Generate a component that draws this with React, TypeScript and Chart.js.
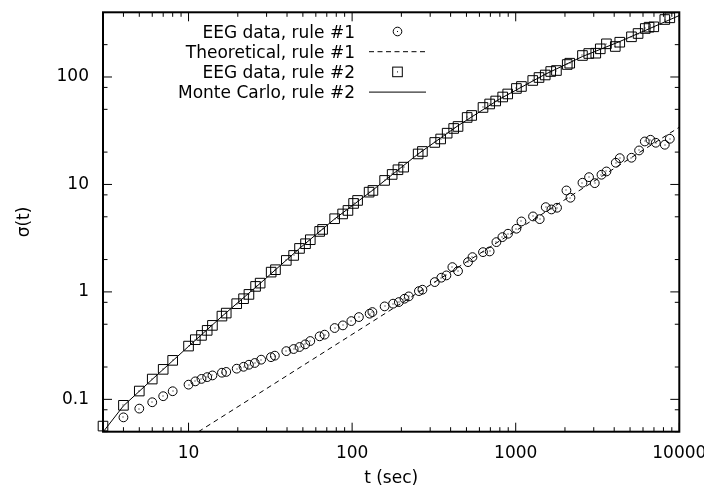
import { useEffect, useRef } from "react";
import { Chart, registerables } from "chart.js";
Chart.register(...registerables);

// EEG data, rule #1 (circles)
const T_EEG1 = [4,5,6,7,8,10,11,12,13,14,16,17,19.7,21.7,23.4,25.4,27.8,31.9,33.7,39.6,43.9,47.7,51.7,55.5,63.3,67.9,78.2,87.8,98.9,110,128,133,158,178,193,209,222,256,269,320,351,377,410,444,511,544,631,693,762,829,897,1010,1084,1276,1402,1526,1653,1789,2042,2161,2559,2807,3042,3344,3586,4089,4326,5101,5678,6152,6665,7183,8154,8749];
const S_EEG1 = [0.068,0.082,0.094,0.107,0.119,0.137,0.147,0.155,0.161,0.167,0.177,0.180,0.193,0.201,0.210,0.218,0.234,0.247,0.255,0.281,0.294,0.307,0.325,0.349,0.386,0.400,0.461,0.488,0.535,0.583,0.627,0.649,0.733,0.777,0.804,0.864,0.908,1.017,1.048,1.234,1.356,1.424,1.701,1.561,1.893,2.107,2.345,2.38,2.906,3.234,3.478,3.872,4.526,5.039,4.756,6.149,5.853,6.07,8.794,7.52,10.37,11.69,10.28,12.31,13.21,15.92,17.57,17.72,20.72,25.12,26.05,24.43,23.41,26.61];

// Theoretical, rule #1 (dashed)
const T_THEORY = [11.5, 10000];
const S_THEORY = [0.05, 34.1];

// EEG data, rule #2 (squares)
const T_EEG2 = [3,4,5,6,7,8,10,11,12,13,14,16,17,19.7,21.7,23.4,25.7,27.4,32.0,34.0,39.6,43.9,47.7,51.9,55.5,63.3,66.0,78.2,87.5,94.3,102.1,108,127,134,158,175.7,190.6,206.5,253.3,269,320,347.7,381,417.7,444,505,538,631,693,754.6,832.6,893.5,1010,1084,1271,1388,1515,1637,1774,2065,2139,2559,2796,3086,3288,3586,4061,4326,5101,5598,6194,6535,6982,8154,8749];
const S_EEG2 = [0.0564,0.088,0.1195,0.1545,0.1902,0.2306,0.3132,0.3592,0.3938,0.4385,0.488,0.5955,0.635,0.7767,0.8644,0.9478,1.125,1.207,1.528,1.609,1.963,2.185,2.539,2.808,3.06,3.654,3.815,4.797,5.316,5.729,6.658,7.1,8.479,8.794,10.9,12.39,13.7,14.49,19.22,20.28,24.59,26.5,30.0,33.19,34.64,42.02,43.86,52.04,56.09,59.8,65.16,69.5,78.2,81.6,92.8,98.9,104.4,112.5,114.9,130.7,134.4,158.5,165.4,166.5,182.9,203.6,192.2,210.7,236.6,253.9,282.7,290.7,293.1,342.7,355.4];

// Monte Carlo, rule #2 (solid)
const T_MC = [3,4,6,10,16,27.4,47.7,78.2,133,253,441,798,1505,2559,4326,6600,10000];
const S_MC = [0.0496,0.087,0.1535,0.311,0.592,1.2,2.54,4.777,8.79,19.2,35.0,62.4,105.5,155.1,213.9,282.7,373.4];

const LABELS = ["EEG data, rule #1", "Theoretical, rule #1", "EEG data, rule #2", "Monte Carlo, rule #2"];
const X_TITLE = "t (sec)";
const Y_TITLE = "σ(t)";

const X_MIN = 3, X_MAX = 10000, Y_MIN = 0.05, Y_MAX = 400;
const X_MAJOR = [10, 100, 1000, 10000];
const X_MINOR = [3,4,5,6,7,8,9,20,30,40,50,60,70,80,90,200,300,400,500,600,700,800,900,2000,3000,4000,5000,6000,7000,8000,9000];
const Y_MAJOR = [0.1, 1, 10, 100];
const Y_MINOR = [0.05, 0.08, 0.2, 0.5, 0.8, 2, 5, 8, 20, 50, 80, 200];

const FONT = '"DejaVu Sans", sans-serif';
const FS = 17;

const pts = (xs: number[], ys: number[]) => xs.map((x, i) => ({ x, y: ys[i] }));

const framePlugin = {
  id: "gnuplotFrame",
  afterDatasetsDraw(chart: any) {
    const { ctx, chartArea: a, scales } = chart;
    const xs = scales.x, ys = scales.y;
    ctx.save();
    // center dots on markers
    ctx.fillStyle = "#000";
    [0, 2].forEach((di) => {
      chart.getDatasetMeta(di).data.forEach((el: any) => {
        ctx.fillRect(Math.round(el.x) - 0.5, Math.round(el.y) - 0.5, 1, 1);
      });
    });
    // ticks
    ctx.strokeStyle = "#000";
    ctx.lineWidth = 1;
    ctx.beginPath();
    const xt = (vals: number[], len: number) => vals.forEach((v) => {
      const p = xs.getPixelForValue(v);
      ctx.moveTo(p, a.bottom); ctx.lineTo(p, a.bottom - len);
      ctx.moveTo(p, a.top); ctx.lineTo(p, a.top + len);
    });
    const yt = (vals: number[], len: number) => vals.forEach((v) => {
      const p = ys.getPixelForValue(v);
      ctx.moveTo(a.left, p); ctx.lineTo(a.left + len, p);
      ctx.moveTo(a.right, p); ctx.lineTo(a.right - len, p);
    });
    xt(X_MAJOR, 9); xt(X_MINOR, 4.5);
    yt(Y_MAJOR, 9); yt(Y_MINOR, 4.5);
    ctx.stroke();
    // border
    ctx.lineWidth = 2;
    ctx.strokeRect(a.left, a.top, a.right - a.left, a.bottom - a.top);
    // legend
    ctx.font = `${FS}px ${FONT}`;
    ctx.textAlign = "right";
    ctx.textBaseline = "alphabetic";
    ctx.fillStyle = "#000";
    const sx = 397.5, x0 = 369, x1 = 426;
    LABELS.forEach((lab, i) => {
      const y = 31.5 + 20.2 * i;
      ctx.fillText(lab, 355, y + 6.2);
      ctx.lineWidth = 1;
      ctx.setLineDash([]);
      if (i === 0) {
        ctx.beginPath(); ctx.arc(sx, y, 4.3, 0, Math.PI * 2); ctx.stroke();
        ctx.fillRect(sx - 0.5, y - 0.5, 1, 1);
      } else if (i === 2) {
        ctx.strokeRect(sx - 4.8, y - 4.8, 9.6, 9.6);
        ctx.fillRect(sx - 0.5, y - 0.5, 1, 1);
      } else {
        if (i === 1) ctx.setLineDash([5, 3.5]);
        ctx.beginPath(); ctx.moveTo(x0, y); ctx.lineTo(x1, y); ctx.stroke();
        ctx.setLineDash([]);
      }
    });
    ctx.restore();
  },
};

export default function App() {
  const ref = useRef<HTMLCanvasElement>(null);
  useEffect(() => {
    const canvas = ref.current!;
    const tickFont = { family: FONT, size: FS };
    const chart = new Chart(canvas, {
      type: "scatter",
      data: {
        datasets: [
          {
            label: LABELS[0], data: pts(T_EEG1, S_EEG1), showLine: false,
            pointStyle: "circle", pointRadius: 4.4, pointBorderWidth: 1,
            pointBorderColor: "#000", pointBackgroundColor: "rgba(0,0,0,0)", clip: false,
          },
          {
            label: LABELS[1], data: pts(T_THEORY, S_THEORY), showLine: true,
            borderColor: "#000", borderWidth: 1, borderDash: [5, 4], pointRadius: 0,
          },
          {
            label: LABELS[2], data: pts(T_EEG2, S_EEG2), showLine: false,
            pointStyle: "rect", pointRadius: 6.8, pointBorderWidth: 1,
            pointBorderColor: "#000", pointBackgroundColor: "rgba(0,0,0,0)", clip: false,
          },
          {
            label: LABELS[3], data: pts(T_MC, S_MC), showLine: true,
            borderColor: "#000", borderWidth: 1, pointRadius: 0,
          },
        ] as any,
      },
      options: {
        responsive: false,
        animation: false,
        devicePixelRatio: 1,
        events: [],
        layout: { padding: { left: 0, top: 12.3, right: 24.7, bottom: 0 } },
        plugins: { legend: { display: false }, tooltip: { enabled: false } },
        scales: {
          x: {
            type: "logarithmic", position: "bottom", min: X_MIN, max: X_MAX,
            grid: { display: false, drawTicks: false }, border: { display: false },
            ticks: {
              autoSkip: false, maxRotation: 0, padding: 11.5, color: "#000", font: tickFont,
              callback: (v: any) => (X_MAJOR.includes(Number(v)) ? String(v) : ""),
            },
            title: { display: true, text: X_TITLE, color: "#000", font: tickFont, padding: { top: 0, bottom: 4.5 } },
            afterBuildTicks: (s: any) => { s.ticks = X_MAJOR.map((v) => ({ value: v })); },
            afterFit: (s: any) => { s.height = 61.3; s.paddingLeft = 0; s.paddingRight = 0; },
          },
          y: {
            type: "logarithmic", position: "left", min: Y_MIN, max: Y_MAX,
            grid: { display: false, drawTicks: false }, border: { display: false },
            ticks: {
              autoSkip: false, padding: 14, color: "#000", font: tickFont,
              callback: (v: any) => (Y_MAJOR.includes(Number(v)) ? String(v) : ""),
            },
            title: { display: true, text: Y_TITLE, color: "#000", font: tickFont, padding: { top: 14, bottom: 0 } },
            afterBuildTicks: (s: any) => { s.ticks = Y_MAJOR.map((v) => ({ value: v })); },
            afterFit: (s: any) => { s.width = 103; s.paddingTop = 0; s.paddingBottom = 0; },
          },
        },
      } as any,
      plugins: [framePlugin],
    });
    return () => chart.destroy();
  }, []);
  return (
    <div style={{ position: "fixed", left: 0, top: 0, width: 704, height: 493, background: "#fff" }}>
      <canvas ref={ref} width={704} height={493} style={{ display: "block", width: 704, height: 493 }} />
    </div>
  );
}
